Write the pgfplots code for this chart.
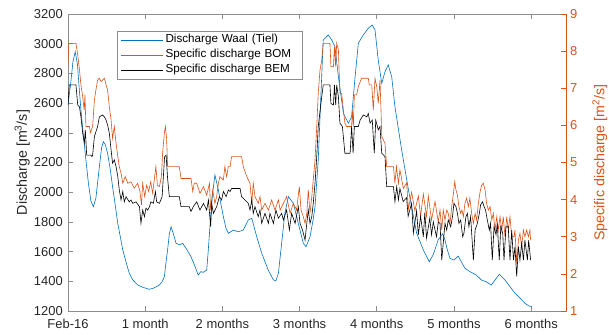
\documentclass[border=0pt]{standalone}
\usepackage{fontspec}
\setmainfont{Liberation Sans}
\usepackage{pgfplots}
\pgfplotsset{compat=1.18}
\definecolor{mblue}{rgb}{0,0.447,0.741}
\definecolor{morange}{rgb}{0.851,0.325,0.098}
\definecolor{axgray}{gray}{0.55}
\definecolor{txt}{gray}{0.15}
\begin{document}
\begin{tikzpicture}
\path[use as bounding box] (-68bp,-24bp) rectangle (541bp,311bp);
\pgfplotsset{
  base/.style={
    width=498bp, height=297bp, scale only axis,
    at={(0bp,0bp)}, anchor=south west,
    xmin=0, xmax=200,
    tick align=inside,
    major tick length=5bp,
    /pgf/number format/assume math mode=true,
    /pgf/number format/1000 sep={},
    tick label style={font=\fontsize{13}{15}\selectfont},
  }
}
\begin{axis}[base,
  ymin=1200, ymax=3200, ytick={1200,1400,...,3200},
  ytick pos=left,
  xtick={0,31,62,93,124,155,186},
  xticklabels={Feb-16,1 month,2 months,3 months,4 months,5 months,6 months},
  xtick pos=both,
  axis line style={axgray, line width=0.6bp},
  tick style={axgray, line width=0.6bp},
  yticklabel style={inner sep=0bp, xshift=-5bp, text=txt},
  xticklabel style={inner sep=0bp, yshift=-8bp, text=txt},
  every axis y label/.style={at={(axis description cs:-0.092,0.5)}, rotate=90, anchor=center, text=txt, font=\fontsize{14.3}{16}\selectfont},
  ylabel={Discharge [m\textsuperscript{3}/s]},
]
\addplot[mblue, line width=0.6bp] coordinates {
(0,2590)(1,2720)(2,2880)(2.9,2946)(3.8,2860)(4.5,2700)(5.2,2553)(6.2,2380)(7.2,2217)(8.2,2060)(9.2,1940)(10.2,1902)(11.2,1960)(12.6,2172)(13.5,2300)(14.2,2340)(15,2320)(15.9,2262)(17,2150)(17.9,2037)(19,1910)(20,1790)(21,1700)(22,1611)(23.3,1530)(24.6,1454)(26,1410)(28,1375)(30,1360)(32.7,1346)(34.5,1355)(36.7,1375)(37.7,1395)(38.7,1431)(39.3,1520)(40,1611)(40.7,1720)(41.4,1768)(42.3,1720)(43.4,1656)(45,1645)(46,1656)(47.5,1620)(49.4,1566)(51,1500)(52.3,1442)(53.3,1465)(54.3,1460)(55.7,1476)(56.3,1600)(57,1768)(58,1980)(59,2116)(60.4,2015)(61.4,1920)(62.4,1835)(63.4,1760)(64.4,1723)(66.4,1745)(68.4,1734)(70.4,1745)(72.4,1813)(73.8,1824)(75.8,1700)(77.8,1589)(80.4,1476)(82.5,1409)(83.5,1404)(84.5,1454)(85.8,1656)(87.1,1858)(88.5,1970)(90.5,1925)(92.5,1790)(94.5,1656)(95.6,1633)(97.2,1700)(98.5,1820)(99.2,1902)(100.5,2217)(101.6,2666)(102.5,3025)(104.5,3059)(105.9,3025)(107.2,2980)(108.6,2778)(110.6,2531)(112.6,2464)(113.9,2508)(115.3,2778)(116.6,3003)(118.6,3059)(120.6,3104)(122.2,3126)(123.3,3092)(124.6,2890)(126,2733)(127.3,2811)(128.6,2857)(130,2778)(131.3,2576)(134,2284)(137,1990)(140,1725)(142.7,1611)(145.1,1532)(146.7,1580)(148.7,1680)(150.5,1720)(151.4,1678)(152.2,1620)(153.4,1555)(155,1543)(156.7,1570)(158,1530)(159.4,1488)(161.4,1465)(164,1442)(166,1409)(168,1397)(170,1375)(171.5,1409)(173.2,1447)(175.5,1409)(177.5,1364)(179.5,1320)(181,1296)(183.5,1252)(185,1235)(186.2,1230)
};
\end{axis}
\begin{axis}[base,
  ymin=1, ymax=9, ytick={1,...,9},
  axis x line=none,
  axis y line*=right,
  y axis line style={morange, line width=0.6bp},
  ytick style={morange, line width=0.6bp},
  yticklabel style={inner sep=0bp, xshift=4bp, text=morange},
  every axis y label/.style={at={(axis description cs:1.068,0.5)}, rotate=90, anchor=center, text=morange, font=\fontsize{14.3}{16}\selectfont},
  ylabel={Specific discharge [m\textsuperscript{2}/s]},
  legend style={at={(rel axis cs:0.0978,0.944)}, anchor=north west, draw=axgray, line width=0.5bp, fill=white,
    font=\fontsize{11.7}{13}\selectfont, inner xsep=4bp, inner ysep=1.5bp,
    nodes={inner xsep=2bp, inner ysep=2bp, text height=8.5bp, text depth=2.5bp, text width=131bp}},
  legend cell align=left,
  legend image code/.code={\path (0bp,0bp) -- (42bp,0bp); \draw[#1, line width=0.6bp] (0bp,0bp) -- (38bp,0bp);},
]
\addlegendimage{mblue}
\addlegendentry{Discharge Waal (Tiel)}
\addplot[morange, line width=0.6bp] coordinates {
(0,7.58)(0.3,8.21)(3.2,8.21)(3.9,7.90)(4.55,7.54)(5.2,7.09)(5.9,6.77)(6.5,6.41)(6.8,6.82)(7.2,5.97)(8.6,5.97)(9.0,5.80)(9.9,5.97)(10.6,6.68)(11.2,6.95)(11.9,7.22)(12.6,7.27)(13.3,7.18)(13.9,7.22)(14.6,7.27)(15.3,7.09)(15.9,6.95)(16.6,6.50)(17.3,6.15)(17.9,5.65)(18.6,5.97)(19.3,5.52)(20.0,5.16)(20.6,4.89)(21.3,4.71)(22.0,4.44)(23,4.62)(24,4.44)(25.3,4.48)(26.6,4.31)(28,4.44)(28.9,4.22)(29.5,3.86)(30,4.44)(30.8,4.08)(31.6,4.39)(32.4,4.22)(33.2,4.48)(34,4.17)(34.8,4.62)(35.3,4.89)(35.9,4.39)(36.7,4.35)(37.5,4.62)(38,5.25)(38.7,5.79)(39.1,5.97)(39.6,5.65)(40,4.89)(44.7,4.89)(45.4,4.57)(49.4,4.57)(50.1,4.22)(50.7,4.44)(51.7,4.44)(53,4.17)(54.4,4.35)(55.7,4.12)(56.8,4.44)(57.3,3.72)(58.1,4.26)(59,3.90)(59.7,4.08)(60.4,4.44)(61,4.62)(62.4,4.53)(63,4.89)(63.7,4.62)(64.4,4.89)(65.1,4.89)(65.7,5.16)(69.7,5.16)(70.4,4.89)(71.8,4.62)(73.1,4.44)(73.8,3.90)(74.4,4.44)(75.1,4.08)(76.4,3.90)(77.1,4.08)(77.8,3.72)(79.1,3.90)(80.5,3.72)(81.8,3.99)(83.1,3.72)(84.5,3.99)(85.2,3.72)(86.5,3.90)(87.8,4.08)(89.2,3.63)(90.5,3.90)(91.8,3.72)(92.9,4.35)(93.6,3.72)(94.5,3.54)(95.2,3.36)(95.9,3.63)(96.5,4.26)(97.2,3.63)(97.9,4.08)(99.2,5.07)(99.9,5.97)(100.5,6.86)(101.2,7.49)(101.9,7.76)(102.5,8.21)(105.2,8.21)(105.6,7.58)(106.6,7.58)(107,8.12)(107.5,7.58)(107.9,8.21)(108.6,8.03)(109.2,6.86)(109.9,6.86)(110.6,6.41)(111.2,6.06)(111.9,5.97)(113.9,5.97)(114.2,6.41)(114.6,5.97)(115,6.82)(115.9,6.82)(116.6,7.04)(117.9,7.27)(120.6,7.27)(121,7.09)(122,7.09)(122.6,6.41)(123.3,7.27)(124,7.04)(124.6,6.59)(125.3,7.22)(125.7,6.41)(126,5.70)(127.3,5.52)(128,4.89)(130.7,4.89)(131.3,4.44)(131.9,4.89)(132.7,4.44)(133.3,4.80)(134.7,4.30)(136,4.45)(136.7,3.75)(138,4.20)(139.3,3.70)(140.7,4.10)(141.6,3.55)(142.7,4.15)(144,3.55)(144.7,4.10)(146,3.45)(147.4,3.95)(148.7,3.40)(149.4,3.72)(150.1,3.18)(150.7,3.72)(151.4,3.45)(152.1,3.72)(152.7,3.63)(153.4,3.36)(154.1,3.81)(154.8,4.17)(155.3,4.48)(155.8,4.26)(156.4,4.12)(157.0,3.81)(157.7,3.63)(158.2,3.72)(158.8,3.54)(159.4,3.90)(160.1,4.04)(160.8,3.81)(161.4,4.04)(162.1,3.63)(162.8,3.36)(163.5,3.63)(164.1,3.45)(164.8,3.90)(165.5,4.21)(166.1,4.39)(166.8,4.44)(167.5,4.26)(168.1,3.90)(168.8,3.72)(169.5,3.81)(170.2,3.45)(170.8,3.63)(171.5,3.18)(172.2,3.54)(172.8,3.18)(173.5,3.54)(174.2,3.18)(174.8,3.54)(175.5,3.00)(176.2,3.54)(176.8,3.18)(177.5,3.54)(178.2,3.00)(179.1,3.00)(179.5,3.18)(180.2,2.28)(180.9,2.91)(181.5,3.09)(182.2,2.73)(182.9,3.18)(183.5,3.00)(184.2,3.18)(184.9,3.00)(185.5,3.18)(185.8,2.91)
};
\addlegendentry{Specific discharge BOM}
\addplot[black, line width=0.6bp] coordinates {
(0,6.55)(0.5,7.09)(3.2,7.09)(3.9,6.55)(4.6,6.50)(5.2,6.23)(5.9,5.79)(6.56,5.52)(6.96,5.88)(7.5,5.20)(9.2,5.20)(9.6,5.16)(9.9,5.20)(10.6,5.70)(11.9,5.97)(12.6,6.23)(13.9,6.28)(14.6,6.23)(15.3,6.14)(15.9,6.01)(16.6,5.79)(17.3,5.34)(17.9,4.98)(18.6,5.07)(19.3,4.89)(20,4.62)(20.6,4.26)(21.3,3.99)(22,4.22)(22.6,3.94)(23.3,4.08)(24.6,3.94)(25.3,3.99)(26,3.90)(27.3,3.94)(28.7,3.81)(29.3,3.36)(30,3.72)(30.7,3.54)(31.3,3.77)(32,3.72)(32.7,3.81)(33.3,3.94)(34.3,3.90)(35.1,4.22)(35.6,3.94)(36.7,3.90)(37.8,4.08)(38.3,4.62)(38.8,5.16)(39.4,5.20)(40,4.57)(40.7,4.08)(44.7,4.08)(45.4,3.81)(48.7,3.81)(49.4,3.68)(50.3,3.81)(51.7,3.94)(53,3.72)(54.4,3.90)(55.7,3.72)(56.4,3.99)(57.3,3.27)(57.7,3.90)(58.4,3.63)(59.7,3.81)(60.8,4.08)(61.7,3.99)(62.4,4.22)(63.5,4.08)(64.4,4.26)(65.1,4.22)(65.7,4.30)(69.1,4.30)(69.7,4.08)(71.1,3.99)(72.4,3.90)(73.1,3.72)(73.8,3.99)(74.4,3.63)(75.1,3.81)(76.4,3.54)(77.1,3.72)(77.8,3.36)(79.1,3.63)(80.5,3.36)(81.1,3.63)(82.5,3.36)(83.5,3.72)(84.5,3.50)(85.8,3.63)(86.5,3.45)(87.8,3.72)(88.9,3.18)(89.8,3.63)(91.2,3.36)(92.5,3.81)(93.2,3.36)(94.2,3.18)(95.2,2.91)(95.9,3.36)(96.5,3.72)(97.2,3.36)(97.9,3.54)(98.5,3.90)(99.2,4.44)(99.9,5.16)(100.5,5.97)(101.9,6.77)(102.5,7.09)(105.2,7.09)(105.6,6.59)(106.6,6.55)(107,7.09)(107.5,6.55)(107.9,7.09)(108.6,6.77)(109.2,6.06)(110.2,5.97)(111.2,5.25)(113.3,5.25)(113.9,5.97)(114.5,5.25)(115,5.97)(116.6,5.97)(117.3,6.14)(118.6,6.28)(120,6.23)(120.6,6.32)(121.3,6.06)(122.2,6.14)(123,5.25)(123.6,6.14)(124.6,5.88)(125.3,5.97)(126,5.25)(127.3,5.16)(128,4.35)(130.7,4.35)(131.3,3.94)(132,4.35)(132.7,3.99)(133.3,4.30)(134.6,3.95)(136,4.05)(136.6,3.55)(138,3.90)(138.7,3.10)(140,3.70)(140.7,3.05)(141.6,3.55)(142.7,3.00)(143.3,3.65)(144,2.96)(145.3,3.50)(146,3.05)(146.7,3.40)(148,3.00)(148.7,3.40)(149.4,3.36)(150.1,2.37)(151.4,3.36)(152.1,3.18)(152.7,3.45)(153.7,3.27)(154.4,3.54)(155.0,3.90)(155.8,3.81)(156.4,3.63)(157.0,3.36)(157.7,3.45)(158.5,3.00)(159.0,3.09)(159.8,3.54)(160.4,3.63)(161.0,3.27)(161.7,3.54)(162.8,2.37)(163.5,3.18)(164.4,3.36)(165.2,3.63)(165.7,3.86)(166.5,3.94)(167.1,3.81)(167.7,3.72)(168.4,3.45)(169.2,3.18)(169.7,3.36)(170.4,2.37)(171.1,3.27)(171.9,3.05)(172.4,3.36)(173.2,2.37)(173.8,3.27)(174.6,3.09)(175.1,2.37)(175.9,3.27)(176.8,3.27)(177.5,2.37)(178.2,3.18)(178.9,2.37)(179.5,2.73)(180.2,1.93)(180.9,2.73)(181.5,2.37)(182.2,2.82)(182.9,2.37)(183.5,2.91)(184.5,2.37)(185.0,2.91)(185.8,2.37)
};
\addlegendentry{Specific discharge BEM}
\end{axis}
\end{tikzpicture}
\end{document}
